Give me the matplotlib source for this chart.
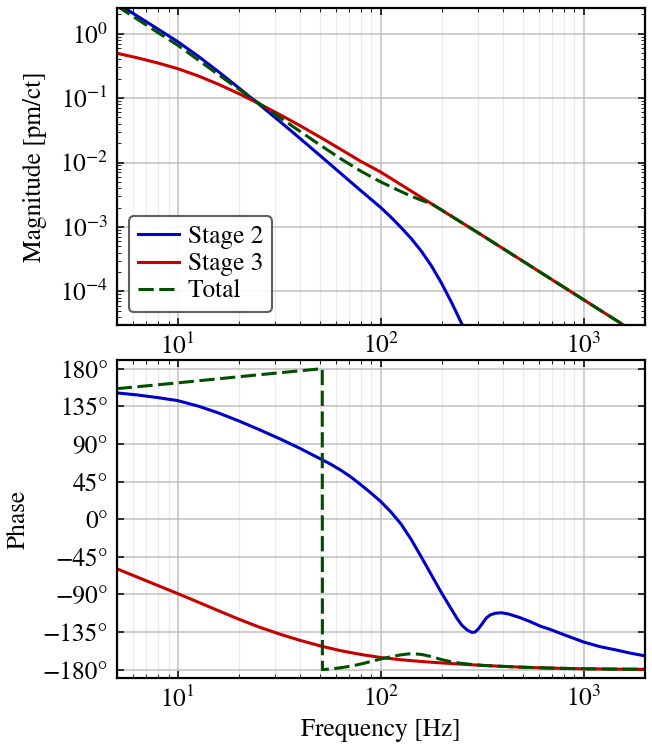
import numpy as np
import matplotlib
matplotlib.use("Agg")
import matplotlib.pyplot as plt
from matplotlib.ticker import FixedLocator, FuncFormatter

# Magnitude readings (pm/ct) vs frequency (Hz)
f_mag_s2 = [5, 6.31, 7.94, 10, 12.6, 15.85, 19.95, 25.1, 31.6, 39.8, 50.1,
            63.1, 79.4, 100, 112.2, 125.9, 141.3, 158.5, 177.8, 199.5, 223.9,
            251.2, 281.8]
mag_s2 = [3.0, 1.88, 1.19, 0.75, 0.447, 0.257, 0.1445, 0.0804, 0.0442, 0.024,
          0.0129, 6.9e-3, 3.7e-3, 2.0e-3, 1.42e-3, 9.8e-4, 6.6e-4, 4.2e-4,
          2.48e-4, 1.33e-4, 6.6e-5, 3.1e-5, 1.4e-5]

f_mag_s3 = [5, 6.31, 7.94, 10, 12.6, 15.85, 19.95, 25.1, 31.6, 39.8, 50.1,
            63.1, 79.4, 100, 125.9, 177.8, 316.2, 1000, 2000]
mag_s3 = [0.497, 0.422, 0.352, 0.286, 0.221, 0.164, 0.1175, 0.082, 0.0561,
          0.0377, 0.0249, 0.0162, 0.0105, 7.1e-3, 4.52e-3, 2.29e-3, 7.4e-4,
          7.4e-5, 1.86e-5]

f_mag_tot = [5, 6.31, 7.94, 10, 12.6, 15.85, 19.95, 25.1, 31.6, 39.8, 50.1,
             63.1, 79.4, 100, 125.9, 141.3, 158.5, 177.8, 316.2, 1000, 2000]
mag_tot = [2.7, 1.68, 1.05, 0.66, 0.391, 0.231, 0.138, 0.083, 0.0506, 0.0308,
           0.0188, 0.0116, 7.4e-3, 5.0e-3, 3.54e-3, 3.0e-3, 2.6e-3, 2.29e-3,
           7.4e-4, 7.4e-5, 1.86e-5]

# Phase readings (deg)
f_ph_s2 = [5, 6.31, 7.94, 10, 12.6, 15.85, 19.95, 25.1, 31.6, 39.8, 50.1,
           56.2, 63.1, 70.8, 79.4, 89.1, 100, 112.2, 125.9, 141.3, 158.5,
           177.8, 199.5, 223.9, 237.1, 251.2, 266.1, 281.2, 291.7, 302, 316.2,
           331.9, 346.7, 367.3, 393.6, 426.6, 457.1, 487.5, 549.5, 610.9,
           685.5, 794.3, 891.3, 1000, 1202, 1459, 1698, 2000]
ph_s2 = [151, 148.5, 145.4, 141.7, 135.2, 127.0, 117.5, 107.2, 96.4, 84.9,
         72.4, 66.2, 59.0, 50.9, 41.5, 31.6, 21.0, 8.6, -5.9, -24.4, -45.4,
         -66.9, -88.5, -108.5, -118.5, -127, -132.5, -135.5, -135, -131.5,
         -125, -118, -114.5, -112.5, -112, -113.5, -115.8, -118, -123, -128,
         -132, -138, -142.5, -147, -152.5, -156.7, -160.3, -163.5]

f_ph_s3 = [5, 6.31, 7.94, 10, 12.6, 15.85, 19.95, 25.1, 31.6, 39.8, 50.1,
           63.1, 79.4, 100, 125.9, 158.5, 199.5, 251.2, 316.2, 398.1, 501.2,
           631, 794.3, 1000, 1413, 2000]
ph_s3 = [-59.3, -69.3, -79.2, -89.1, -99.3, -109.5, -119.6, -129.0, -137.3,
         -144.8, -151.5, -157.2, -161.8, -165.5, -168.2, -170.3, -172.0,
         -173.5, -174.9, -176.1, -177.1, -177.9, -178.5, -179.0, -179.4,
         -179.6]

f_ph_tot = [5, 10, 20, 51.5, 51.6, 56.2, 63.1, 70.8, 79.4, 89.1, 100, 112.2,
            125.9, 141.3, 158.5, 177.8, 199.5, 223.9, 251.2, 281.8, 316.2,
            398.1, 501.2, 631, 794.3, 1000, 1413, 2000]
ph_tot = [156, 163, 170.3, 180, -180, -179.3, -177.8, -175.9, -173.4, -170.4,
          -167.3, -164.5, -162.3, -160.8, -161.8, -164.5, -168, -170.8,
          -172.6, -173.8, -174.9, -176.1, -177.1, -177.9, -178.5, -179.0,
          -179.4, -179.6]

phase_ticks = [-180, -135, -90, -45, 0, 45, 90, 135, 180]

c_s2 = "#0000c8"
c_s3 = "#c80000"
c_tot = "#005000"

plt.rcParams["font.family"] = ["STIXGeneral", "DejaVu Serif"]
plt.rcParams["mathtext.fontset"] = "stix"
plt.rcParams["font.size"] = 18.3
plt.rcParams["axes.linewidth"] = 1.6
plt.rcParams["axes.labelpad"] = 9
plt.rcParams["xtick.direction"] = "in"
plt.rcParams["ytick.direction"] = "in"
plt.rcParams["xtick.top"] = True
plt.rcParams["ytick.right"] = True
plt.rcParams["xtick.major.size"] = 5
plt.rcParams["ytick.major.size"] = 5
plt.rcParams["xtick.minor.size"] = 3
plt.rcParams["ytick.minor.size"] = 3
plt.rcParams["xtick.major.width"] = 1.1
plt.rcParams["ytick.major.width"] = 1.1
plt.rcParams["xtick.major.pad"] = 6
plt.rcParams["ytick.major.pad"] = 6

fig = plt.figure(figsize=(6.52, 7.49), dpi=100)
ax1 = fig.add_axes([0.179, 0.566, 0.810, 0.4233])
ax2 = fig.add_axes([0.179, 0.0948, 0.810, 0.4242])

lw = 2.2
dash = (5, 1.8)

# Magnitude
ax1.loglog(f_mag_s2, mag_s2, color=c_s2, lw=lw, label="Stage 2")
ax1.loglog(f_mag_s3, mag_s3, color=c_s3, lw=lw, label="Stage 3")
ax1.loglog(f_mag_tot, mag_tot, color=c_tot, lw=lw, dashes=dash, label="Total")
ax1.set_xlim(5, 2000)
ax1.set_ylim(3e-5, 2.5)
ax1.set_ylabel("Magnitude [pm/ct]")
leg = ax1.legend(loc="lower left", handlelength=1.6, labelspacing=0.12,
                 handletextpad=0.35, borderpad=0.35, edgecolor="0.3",
                 fancybox=True, framealpha=0.9)
leg.get_frame().set_linewidth(1.5)

# Phase
ax2.semilogx(f_ph_s2, ph_s2, color=c_s2, lw=lw)
ax2.semilogx(f_ph_s3, ph_s3, color=c_s3, lw=lw)
ax2.semilogx(f_ph_tot, ph_tot, color=c_tot, lw=lw, dashes=dash)
ax2.set_xlim(5, 2000)
ax2.set_ylim(-190, 190)
ax2.yaxis.set_major_locator(FixedLocator(phase_ticks))
ax2.yaxis.set_minor_locator(FixedLocator([]))
ax2.yaxis.set_major_formatter(
    FuncFormatter(lambda v, p: f"{v:.0f}\u00b0".replace("-", "\u2212")))
ax2.set_ylabel("Phase")
ax2.set_xlabel("Frequency [Hz]", labelpad=4)

for ax in (ax1, ax2):
    ax.grid(which="major", color="0.72", lw=1.2, alpha=0.8)
    ax.grid(which="minor", axis="x", color="0.9", lw=1.0, alpha=0.8)
    ax.set_axisbelow(True)

fig.savefig("out.png", dpi=100)
